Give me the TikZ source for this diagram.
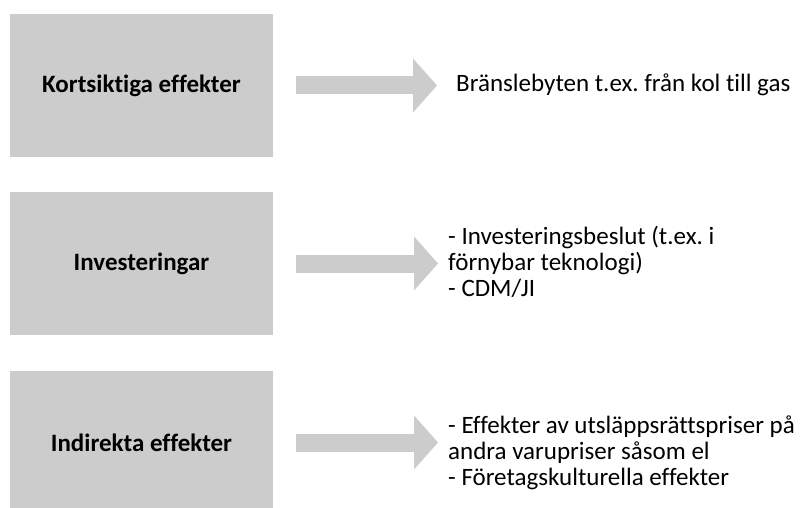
\documentclass[tikz,border=0pt]{standalone}
\usepackage{fontspec}
\setmainfont{Carlito}[Ligatures=CommonOff]
\frenchspacing
\usetikzlibrary{positioning,arrows.meta}
\definecolor{boxgray}{RGB}{204,204,204}
\tikzset{
  effbox/.style={fill=boxgray, minimum width=263pt, minimum height=143pt, inner sep=0pt,
    font=\fontsize{25pt}{26pt}\selectfont\bfseries},
  efftext/.style={anchor=west, align=left, inner sep=0pt, font=\fontsize{25pt}{26pt}\selectfont},
  blockarrow/.style={draw=boxgray, line width=18pt, line cap=butt,
    -{Triangle[length=24pt,width=54pt,line width=0pt]}}
}

\begin{document}
\begin{tikzpicture}[x=1pt,y=-1pt]
    \clip (0,0) rectangle (804,508);
    % left column
    \node[effbox] (kort) at (141.5,85.5) {Kortsiktiga effekter};
    \node[effbox] (inv)  at (141.5,263.5) {Investeringar};
    \node[effbox] (ind)  at (141.5,442.5) {Indirekta effekter};
    % right column
    \node[efftext] (kortfx) at (456,85) {Bränslebyten t.ex. från kol till gas};
    \node[efftext] (invfx)  at (448,262) {- Investeringsbeslut (t.ex. i\\förnybar teknologi)\\- CDM/JI};
    \node[efftext] (indfx)  at (448,453) {- Effekter av utsläppsrättspriser på\\andra varupriser såsom el\\- Företagskulturella effekter};
    % arrows
    \draw[blockarrow, shorten <=23pt, shorten >=19pt] (kort.east) -- (kort.east -| kortfx.west);
    \draw[blockarrow, shorten <=23pt, shorten >=10pt] (inv.east) -- (inv.east -| invfx.west);
    \draw[blockarrow, shorten <=23pt, shorten >=10pt] (ind.east) -- (ind.east -| indfx.west);
\end{tikzpicture}
\end{document}
